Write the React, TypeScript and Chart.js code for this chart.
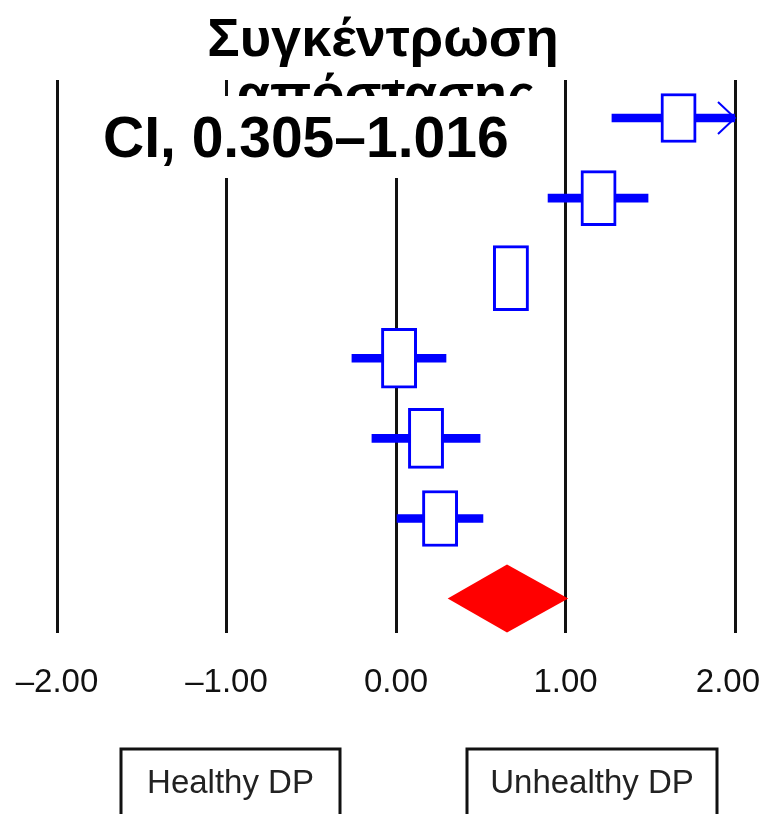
import React, { useEffect, useRef } from 'react';
import { Chart, registerables } from 'chart.js';

Chart.register(...registerables);

// ---- data ----
const studyRows = [1, 2, 3, 4, 5, 6];
const estimates = [1.667, 1.195, 0.678, 0.018, 0.177, 0.26];
const ciLower = [1.274, 0.897, 0.64, -0.26, -0.142, 0.006];
const ciUpper = [2.3, 1.487, 0.72, 0.295, 0.496, 0.513];
const pooledRow = [7];
const pooledEstimate = [0.655];
const pooledLower = [0.305];
const pooledUpper = [1.016];
const xTicks = [-2, -1, 0, 1, 2];
const titleLines = ['Συγκέντρωση', 'απόστασης'];
const ciLabel = ['CI, 0.305–1.016'];
const sideLabels = ['Healthy DP', 'Unhealthy DP'];

// ---- styles ----
const BLUE = '#0000ff';
const RED = '#ff0000';
const FONT = '"Liberation Sans", Arial, Helvetica, sans-serif';
const BOX_HALF = 0.104; // half box width in axis units
const BOX_HEIGHTS = [49, 55, 65, 60, 60, 56];
const X_MIN = -2;
const X_MAX = 2;

const fmtTick = (v: number) => (v < 0 ? '–' + Math.abs(v).toFixed(2) : v.toFixed(2));

const overlayPlugin = {
  id: 'forestOverlay',
  afterDraw(chart: any) {
    const { ctx, chartArea, width } = chart;
    const xs = chart.scales.x;
    const ys = chart.scales.y;
    ctx.save();

    // pooled diamond
    pooledRow.forEach((row, i) => {
      const yc = ys.getPixelForValue(row);
      const xl = xs.getPixelForValue(pooledLower[i]);
      const xe = xs.getPixelForValue(pooledEstimate[i]);
      const xh = xs.getPixelForValue(pooledUpper[i]);
      ctx.beginPath();
      ctx.moveTo(xl, yc);
      ctx.lineTo(xe, yc - 34);
      ctx.lineTo(xh, yc);
      ctx.lineTo(xe, yc + 34);
      ctx.closePath();
      ctx.fillStyle = RED;
      ctx.fill();
    });

    // arrows for truncated CIs
    studyRows.forEach((row, i) => {
      if (ciUpper[i] > X_MAX) {
        const yc = ys.getPixelForValue(row);
        const xe = xs.getPixelForValue(X_MAX);
        ctx.beginPath();
        ctx.moveTo(xe - 17, yc - 16);
        ctx.lineTo(xe, yc);
        ctx.lineTo(xe - 17, yc + 16);
        ctx.strokeStyle = BLUE;
        ctx.lineWidth = 2;
        ctx.stroke();
      }
    });

    // x tick labels (kept inside the canvas)
    ctx.font = `33px ${FONT}`;
    ctx.fillStyle = '#111';
    ctx.textAlign = 'left';
    ctx.textBaseline = 'middle';
    xTicks.forEach((v) => {
      const label = fmtTick(v);
      const w = ctx.measureText(label).width;
      const cx = xs.getPixelForValue(v);
      const left = Math.min(Math.max(cx - w / 2, 2), width - 4 - w);
      ctx.fillText(label, left, chartArea.bottom + 50);
    });

    // title
    ctx.fillStyle = '#000';
    ctx.textAlign = 'center';
    ctx.textBaseline = 'alphabetic';
    ctx.font = `bold 54px ${FONT}`;
    ctx.fillText(titleLines[0], 383, 56);
    ctx.fillText(titleLines[1], 386, 112);

    // white label box covering part of title
    ctx.fillStyle = '#fff';
    ctx.fillRect(78, 96, 458, 82);
    ctx.fillStyle = '#000';
    ctx.textAlign = 'left';
    ctx.font = `bold 57px ${FONT}`;
    ctx.fillText(ciLabel[0], 103, 157);

    // side labels
    const boxes = [
      [121, 749, 219],
      [467, 749, 250],
    ];
    ctx.font = `33px ${FONT}`;
    ctx.textAlign = 'center';
    ctx.textBaseline = 'middle';
    boxes.forEach((b, i) => {
      ctx.strokeStyle = '#111';
      ctx.lineWidth = 3;
      ctx.strokeRect(b[0], b[1], b[2], 90);
      ctx.fillStyle = '#222';
      ctx.fillText(sideLabels[i], b[0] + b[2] / 2, 784);
    });
    ctx.restore();
  },
};

export default function App() {
  const ref = useRef<HTMLCanvasElement | null>(null);
  useEffect(() => {
    document.body.style.margin = '0';
    const canvas = ref.current;
    if (!canvas) return;

    const datasets: any[] = [
      {
        label: 'CI',
        data: studyRows.map((r, i) => ({ y: r, x: [ciLower[i], ciUpper[i]] })),
        backgroundColor: BLUE,
        borderWidth: 0,
        barThickness: 8,
        grouped: false,
        order: 2,
      },
    ];
    studyRows.forEach((r, i) => {
      datasets.push({
        label: 'Study ' + r,
        data: [{ y: r, x: [estimates[i] - BOX_HALF, estimates[i] + BOX_HALF] }],
        backgroundColor: '#ffffff',
        borderColor: BLUE,
        borderWidth: 3,
        borderSkipped: false,
        barThickness: BOX_HEIGHTS[i],
        grouped: false,
        order: 1,
      });
    });

    const chart = new Chart(canvas, {
      type: 'bar',
      data: { datasets },
      options: {
        indexAxis: 'y',
        animation: false,
        responsive: false,
        maintainAspectRatio: false,
        layout: { padding: { top: 80, left: 57, right: 29, bottom: 113 } },
        plugins: {
          legend: { display: false },
          tooltip: { enabled: false },
          title: { display: false },
        },
        scales: {
          x: {
            type: 'linear',
            min: X_MIN,
            max: X_MAX,
            afterBuildTicks: (axis: any) => {
              axis.ticks = xTicks.map((v) => ({ value: v }));
            },
            afterFit: (scale: any) => {
              scale.paddingLeft = 0;
              scale.paddingRight = 0;
              scale.paddingTop = 0;
              scale.paddingBottom = 0;
              scale.height = 68;
            },
            grid: {
              color: '#111',
              lineWidth: 3,
              drawTicks: false,
            },
            border: { display: false },
            ticks: {
              display: false,
              padding: 30,
              font: { family: FONT, size: 33 },
              maxRotation: 0,
              autoSkip: false,
            },
          },
          y: {
            type: 'linear',
            reverse: true,
            offset: false,
            min: 0.526,
            max: 7.43,
            display: false,
          },
        },
      },
      plugins: [overlayPlugin],
    } as any);
    return () => chart.destroy();
  }, []);

  return (
    <div style={{ width: 764, height: 814, background: '#fff' }}>
      <canvas ref={ref} width={764} height={814} style={{ display: 'block' }} />
    </div>
  );
}
